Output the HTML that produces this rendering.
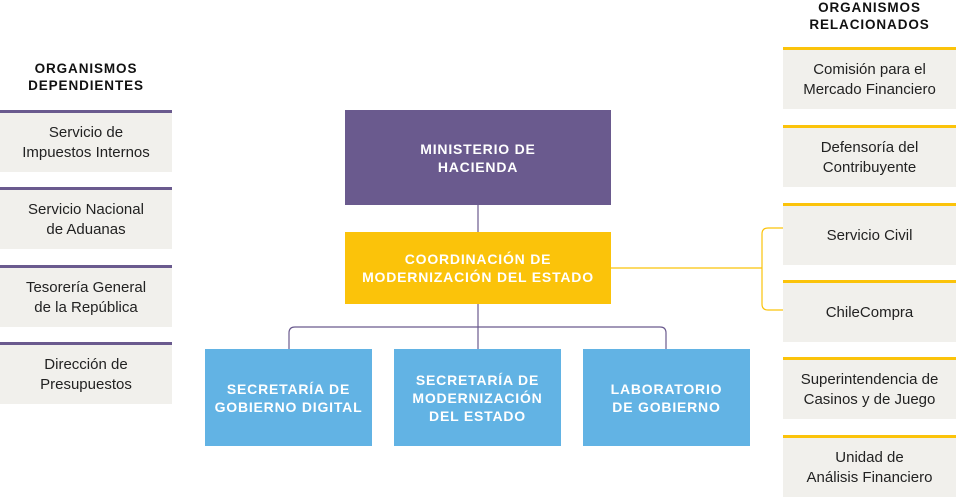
<!DOCTYPE html>
<html><head><meta charset="utf-8"><style>
body{margin:0;width:956px;height:498px;background:#fff;position:relative;overflow:hidden;font-family:"Liberation Sans","DejaVu Sans",sans-serif}
.b{position:absolute;display:flex;align-items:center;justify-content:center;text-align:center;box-sizing:border-box}
.g{background:#f1f0ec;color:#222;font-size:15px;line-height:20px}
.l{border-top:3px solid #6a5a8e;left:0;width:172px;height:62px}
.r{border-top:3px solid #fbc30a;left:783px;width:173px;height:62px}
.h{position:absolute;font-weight:bold;font-size:13.5px;letter-spacing:.9px;text-align:center;line-height:17px;color:#111}
.c{color:#fff;font-weight:bold;font-size:14px;letter-spacing:.8px;line-height:18px}
</style></head><body>
<svg width="956" height="498" style="position:absolute;left:0;top:0">
<g fill="none" stroke="#6a5a8e" stroke-width="1.2">
<line x1="478" y1="205" x2="478" y2="232"/>
<line x1="478" y1="304" x2="478" y2="349"/>
<path d="M289 349 V333 Q289 327 295 327 H660 Q666 327 666 333 V349"/>
</g>
<g fill="none" stroke="#fbc30a" stroke-width="1.2">
<line x1="611" y1="268" x2="762" y2="268"/>
<path d="M783 228 H768 Q762 228 762 234 V304 Q762 310 768 310 H783"/>
</g>
</svg>
<div class="h" style="left:0;width:172px;top:60px">ORGANISMOS<br>DEPENDIENTES</div>
<div class="h" style="left:783px;width:173px;top:-1px">ORGANISMOS<br>RELACIONADOS</div>
<div class="b g l" style="top:110px">Servicio de<br>Impuestos Internos</div>
<div class="b g l" style="top:187px">Servicio Nacional<br>de Aduanas</div>
<div class="b g l" style="top:265px">Tesorería General<br>de la República</div>
<div class="b g l" style="top:342px">Dirección de<br>Presupuestos</div>
<div class="b g r" style="top:47px">Comisión para el<br>Mercado Financiero</div>
<div class="b g r" style="top:125px">Defensoría del<br>Contribuyente</div>
<div class="b g r" style="top:203px">Servicio Civil</div>
<div class="b g r" style="top:280px">ChileCompra</div>
<div class="b g r" style="top:357px">Superintendencia de<br>Casinos y de Juego</div>
<div class="b g r" style="top:435px">Unidad de<br>Análisis Financiero</div>
<div class="b c" style="left:345px;top:110px;width:266px;height:95px;background:#6a5a8e">MINISTERIO DE<br>HACIENDA</div>
<div class="b c" style="left:345px;top:232px;width:266px;height:72px;background:#fbc30a">COORDINACIÓN DE<br>MODERNIZACIÓN DEL ESTADO</div>
<div class="b c" style="left:205px;top:349px;width:167px;height:97px;background:#62b3e4">SECRETARÍA DE<br>GOBIERNO DIGITAL</div>
<div class="b c" style="left:394px;top:349px;width:167px;height:97px;background:#62b3e4">SECRETARÍA DE<br>MODERNIZACIÓN<br>DEL ESTADO</div>
<div class="b c" style="left:583px;top:349px;width:167px;height:97px;background:#62b3e4">LABORATORIO<br>DE GOBIERNO</div>
</body></html>
